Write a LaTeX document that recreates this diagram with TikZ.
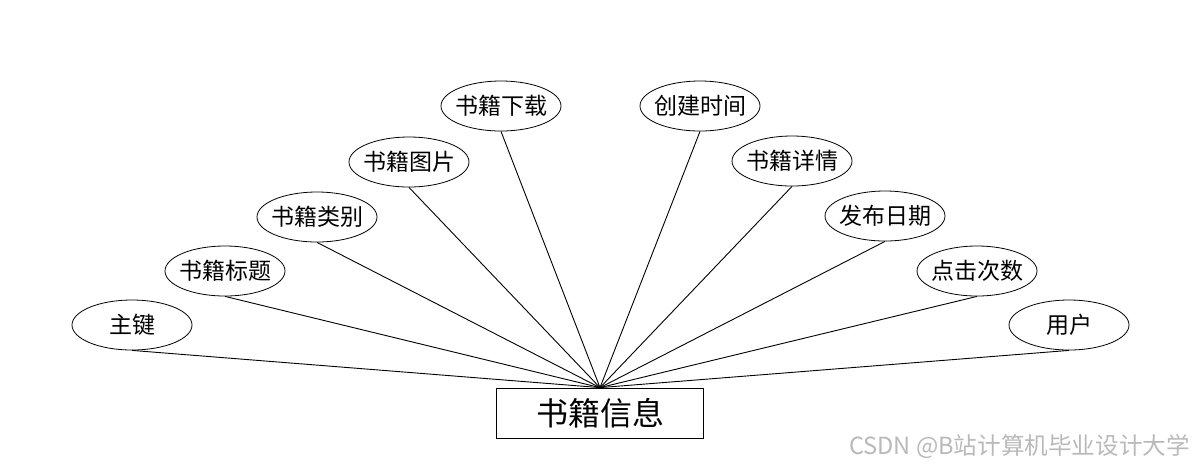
\documentclass[tikz,border=0pt]{standalone}
\usepackage{fontspec}
\setmainfont{Noto Sans CJK SC}
\usepackage{tikz}
\usetikzlibrary{shapes,positioning}

\begin{document}
\begin{tikzpicture}[
    x=0.5pt, y=-0.5pt,
    attr/.style={ellipse, draw, minimum width=60pt, minimum height=25pt, inner xsep=-2pt, inner ysep=0pt, font=\fontsize{11.5}{12}\selectfont},
    entity/.style={rectangle, draw, minimum width=103.5pt, minimum height=25pt, inner sep=0pt, font=\fontsize{16}{18}\selectfont},
    link/.style={line width=0.45pt},
    watermark/.style={anchor=east, text=gray!55, font=\fontsize{11.8}{13}\selectfont},
  ]
    \useasboundingbox (0,0) rectangle (1200,468);

    % Entity
    \node[entity] (info) at (600,413) {书籍信息};

    % Attributes (left)
    \node[attr] (key)      at (132,325) {主键};
    \node[attr] (title)    at (225,271) {书籍标题};
    \node[attr] (category) at (317,217) {书籍类别};
    \node[attr] (image)    at (409,162) {书籍图片};
    \node[attr] (download) at (501,106) {书籍下载};

    % Attributes (right)
    \node[attr] (created)  at (700,106) {创建时间};
    \node[attr] (detail)   at (792,161) {书籍详情};
    \node[attr] (pubdate)  at (885,216) {发布日期};
    \node[attr] (clicks)   at (977,271) {点击次数};
    \node[attr] (user)     at (1069,325) {用户};

    % Links
    \draw[link] (key.south) -- (info.north);
    \draw[link] (title.south) -- (info.north);
    \draw[link] (category.south) -- (info.north);
    \draw[link] (image.south) -- (info.north);
    \draw[link] (download.south) -- (info.north);
    \draw[link] (created.south) -- (info.north);
    \draw[link] (detail.south) -- (info.north);
    \draw[link] (pubdate.south) -- (info.north);
    \draw[link] (clicks.south) -- (info.north);
    \draw[link] (user.south) -- (info.north);

    % Watermark
    \node[watermark] (wm) at (1197,447) {CSDN @B站计算机毕业设计大学};
  \end{tikzpicture}
\end{document}
